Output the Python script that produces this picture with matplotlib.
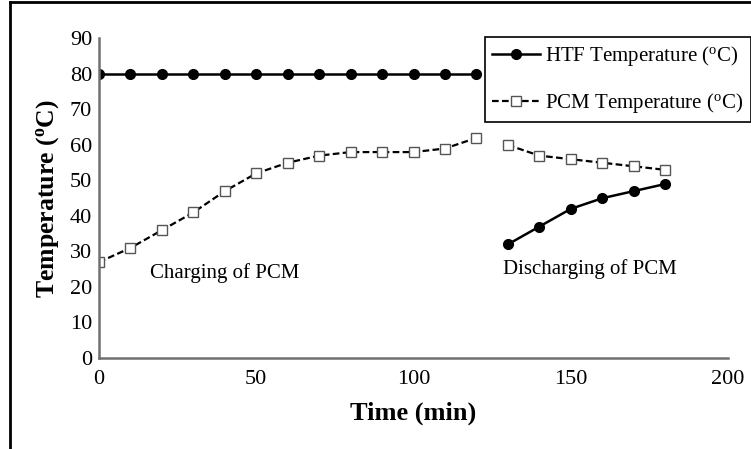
import matplotlib
matplotlib.use('Agg')
from matplotlib import pyplot as plt
from matplotlib.lines import Line2D

plt.rcParams['font.family'] = ['Liberation Serif', 'DejaVu Serif']
plt.rcParams['mathtext.fontset'] = 'custom'
plt.rcParams['mathtext.rm'] = 'Liberation Serif'
plt.rcParams['mathtext.bf'] = 'Liberation Serif:bold'

# Data
time_charge = [0, 10, 20, 30, 40, 50, 60, 70, 80, 90, 100, 110, 120]
htf_charge = [80, 80, 80, 80, 80, 80, 80, 80, 80, 80, 80, 80, 80]
pcm_charge = [27, 31, 36, 41, 47, 52, 55, 57, 58, 58, 58, 59, 62]

time_discharge = [130, 140, 150, 160, 170, 180]
htf_discharge = [32, 37, 42, 45, 47, 49]
pcm_discharge = [60, 57, 56, 55, 54, 53]

x_ticks = [0, 50, 100, 150, 200]
y_ticks = [0, 10, 20, 30, 40, 50, 60, 70, 80, 90]

HTF_LABEL = r'HTF Temperature ($\mathrm{^{o}}$C)'
PCM_LABEL = r'PCM Temperature ($\mathrm{^{o}}$C)'

fig = plt.figure(figsize=(7.51, 4.49), dpi=100)
ax = fig.add_axes([0.1318, 0.2027, 0.8376, 0.7116])

htf_style = dict(color='black', linestyle='-', linewidth=1.8, marker='o',
                 markersize=7, markerfacecolor='black')
pcm_style = dict(color='black', linestyle=(0, (3, 1.5)), linewidth=1.6,
                 marker='s', markersize=7, markerfacecolor='white',
                 markeredgecolor='#555555', markeredgewidth=1)

ax.plot(time_charge, htf_charge, **htf_style)
ax.plot(time_discharge, htf_discharge, **htf_style)
ax.plot(time_charge, pcm_charge, **pcm_style)
ax.plot(time_discharge, pcm_discharge, **pcm_style)

ax.set_xlim(0, 200)
ax.set_ylim(0, 90)
ax.set_xticks(x_ticks)
ax.set_yticks(y_ticks)
ax.tick_params(length=0, labelsize=16, pad=5)
ax.tick_params(axis='x', pad=9)
for s in ['top', 'right']:
    ax.spines[s].set_visible(False)
for s in ['left', 'bottom']:
    ax.spines[s].set_color('#707070')
    ax.spines[s].set_linewidth(1.8)

ax.set_xlabel('Time (min)', fontsize=19, fontweight='bold', labelpad=9)
ax.set_ylabel(r'Temperature ($\mathbf{^{o}}$C)', fontsize=18.5,
              fontweight='bold', labelpad=6)

ax.text(40, 24, 'Charging of PCM', fontsize=15, ha='center', va='center')
ax.text(156, 25, 'Discharging of PCM', fontsize=15, ha='center',
        va='center')

handles = [Line2D([], [], **htf_style), Line2D([], [], **pcm_style)]
leg = ax.legend(handles, [HTF_LABEL, PCM_LABEL], loc='upper left',
                bbox_to_anchor=(0.6137, 1.005), borderaxespad=0,
                fontsize=15, frameon=True, framealpha=1,
                fancybox=False, edgecolor='black', handlelength=2.3,
                handletextpad=0.25, labelspacing=1.1, borderpad=0.35)
leg.get_frame().set_linewidth(1.2)
leg.set_clip_on(False)

# Figure frame (left and top edges)
fig.add_artist(Line2D([10 / 751, 10 / 751], [0, 1 - 2 / 449],
                      transform=fig.transFigure, color='black', linewidth=2))
fig.add_artist(Line2D([10 / 751, 1], [1 - 2 / 449, 1 - 2 / 449],
                      transform=fig.transFigure, color='black', linewidth=2))

fig.savefig('out.png', dpi=100)
